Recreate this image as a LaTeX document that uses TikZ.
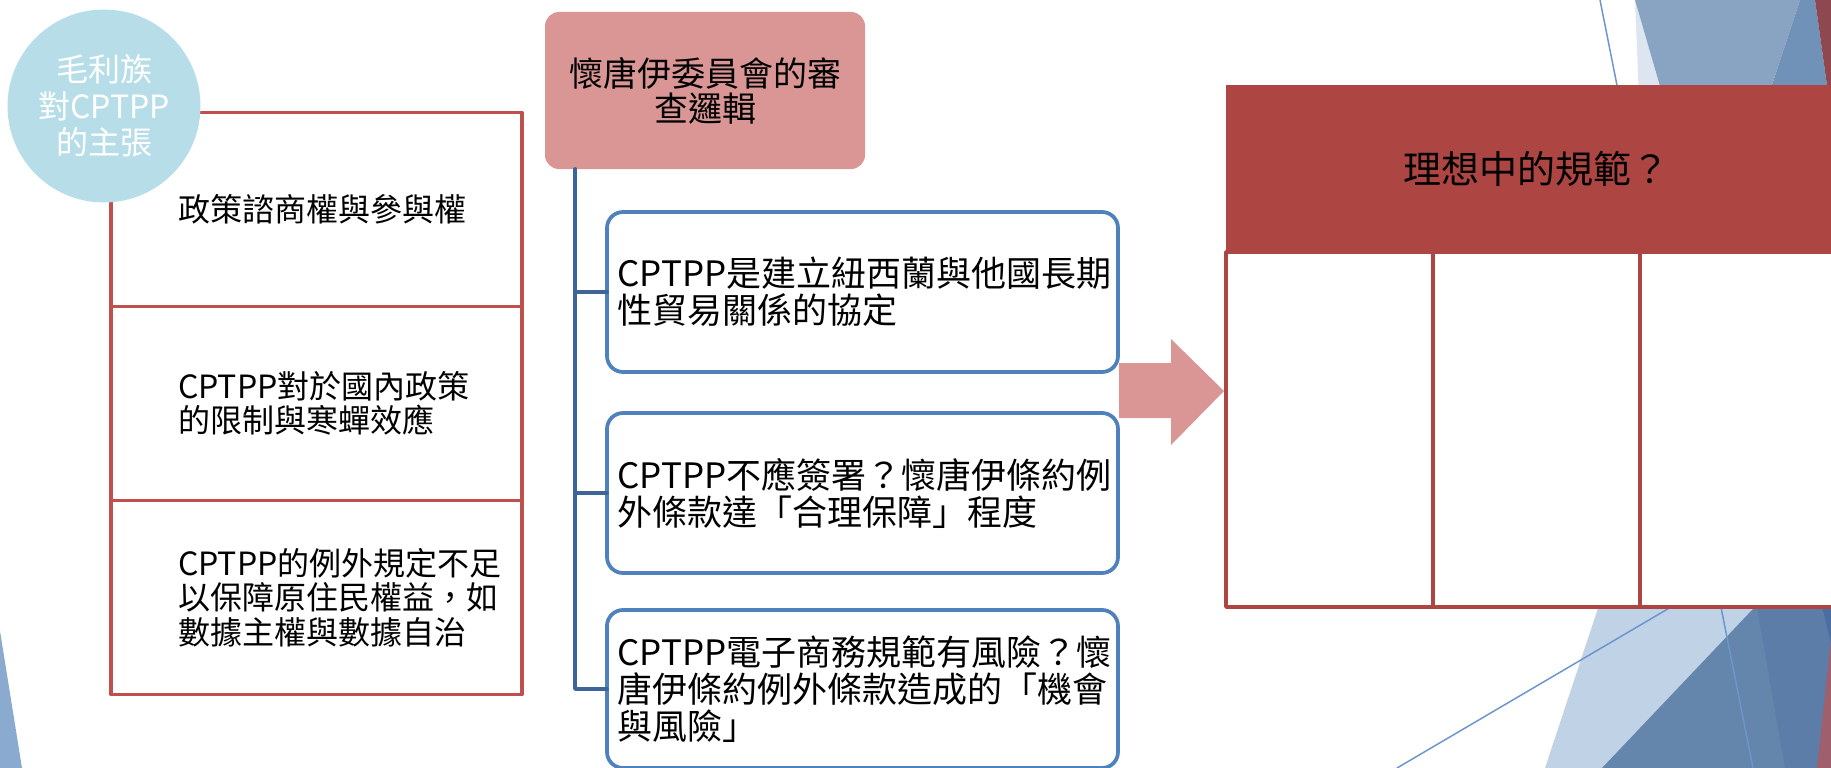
\documentclass[tikz,border=0pt]{standalone}
\usepackage{fontspec}
\setmainfont{Noto Sans CJK TC}[Script=CJK,Language=Chinese Traditional]
\definecolor{tribeblue}{HTML}{B7DEE8}
\definecolor{claimred}{HTML}{C0504D}
\definecolor{reviewpink}{HTML}{D99694}
\definecolor{reasonblue}{HTML}{4F81BD}
\definecolor{trunkblue}{HTML}{3E6498}
\definecolor{idealred}{HTML}{AD4542}
\definecolor{facetpale}{HTML}{DCE5F0}
\definecolor{facetsteel}{HTML}{89A4C2}
\definecolor{facetmid}{HTML}{7092B8}
\definecolor{facetwine}{HTML}{8D4850}
\definecolor{facetlight}{HTML}{BFD2E6}
\definecolor{facetdark}{HTML}{6485AC}
\definecolor{facetband}{HTML}{5C7DA8}
\definecolor{facetdeep}{HTML}{4A6EA0}
\definecolor{facetrose}{HTML}{A05F6C}
\definecolor{facetleft}{HTML}{8AAAD0}
\definecolor{facetline}{HTML}{6D96CC}
\begin{document}
\begin{tikzpicture}[x=1pt,y=-1pt,line join=round,line cap=round]
			\tikzset{every node/.style={inner sep=0pt,outer sep=0pt},
				claimbox/.style={draw=claimred,line width=3.75pt,minimum width=411pt,minimum height=194pt},
				claimtext/.style={anchor=west,align=left,font=\fontsize{32}{34.5}\selectfont},
				tribe/.style={circle,fill=tribeblue,minimum size=193pt,text=white,align=center,font=\fontsize{32}{36.5}\selectfont},
				reviewbox/.style={fill=reviewpink,rounded corners=14pt,minimum width=320pt,minimum height=157pt,align=center,font=\fontsize{34}{35}\selectfont},
				reason/.style={draw=reasonblue,fill=white,line width=3.75pt,rounded corners=16pt,minimum height=160pt,text width=490pt,inner xsep=10.5pt,align=left,font=\fontsize{35}{37}\selectfont},
				trunk/.style={draw=trunkblue,line width=3.75pt},
				idealhead/.style={fill=idealred,minimum width=621pt,minimum height=167pt,font=\fontsize{38}{40}\selectfont},
				idealcell/.style={draw=idealred,fill=white,line width=3.75pt,minimum width=207pt,minimum height=355pt,anchor=north west}}
			\useasboundingbox (0,0) rectangle (1831,768);
			\clip (0,0) rectangle (1831,768);
			\begin{scope}
				\fill[facetpale] (1635,0)--(1639,100)--(1664,100)--cycle;
				\fill[facetsteel] (1635,0)--(1800,0)--(1767,100)--(1664,100)--cycle;
				\fill[facetmid] (1800,0)--(1815,0)--(1829,100)--(1767,100)--cycle;
				\fill[facetwine] (1815,0)--(1831,0)--(1831,100)--(1829,100)--cycle;
				\fill[facetlight] (1604,590)--(1831,590)--(1831,768)--(1545,768)--cycle;
				\fill[facetdark] (1771,590)--(1831,590)--(1831,768)--(1602,768)--cycle;
				\fill[facetband] (1754,590)--(1831,590)--(1831,768)--(1785,768)--cycle;
				\fill[facetdeep] (1818,590)--(1831,590)--(1831,643)--cycle;
				\fill[facetrose] (1831,640)--(1831,768)--(1817,768)--cycle;
				\fill[facetleft] (0,631)--(22,768)--(0,768)--cycle;
				\draw[facetline,line width=1.5pt] (1600,0)--(1753,768) (1700,590)--(1397,768);
			\end{scope}
			\node[claimbox] (claimA) at (316.5,209.5) {};
			\node[claimbox] (claimB) at (316.5,403.5) {};
			\node[claimbox] (claimC) at (316.5,597.5) {};
			\node[claimtext] (claimAtext) at ([xshift=67pt]claimA.west) {政策諮商權與參與權};
			\node[claimtext] (claimBtext) at ([xshift=67pt]claimB.west) {CPTPP對於國內政策\\的限制與寒蟬效應};
			\node[claimtext] (claimCtext) at ([xshift=67pt]claimC.west) {CPTPP的例外規定不足\\以保障原住民權益，如\\數據主權與數據自治};
			\node[tribe] (tribe) at (104,106) {毛利族\\對CPTPP\\的主張};
			\node[reviewbox] (review) at (705,90.5) {懷唐伊委員會的審\\查邏輯};
			\node[reason] (reasonA) at (862.5,292) {CPTPP是建立紐西蘭與他國長期\\性貿易關係的協定};
			\node[reason] (reasonB) at (862.5,493) {CPTPP不應簽署？懷唐伊條約例\\外條款達「合理保障」程度};
			\node[reason,minimum height=158pt] (reasonC) at (862.5,689) {CPTPP電子商務規範有風險？懷\\唐伊條約例外條款造成的「機會\\與風險」};
			\coordinate (trunktop) at ([xshift=30pt]review.south west);
			\draw[trunk] (trunktop) |- (reasonA.west) (trunktop) |- (reasonB.west) (trunktop) |- (reasonC.west);
			\fill[reviewpink] (1119,363)--(1171,363)--(1171,339)--(1224,391)--(1171,445)--(1171,418)--(1119,418)--cycle;
			\node[idealhead] (ideal) at (1536.5,168.5) {理想中的規範？};
			\node[idealcell] (cellA) at (ideal.south west) {};
			\node[idealcell] (cellB) at (cellA.north east) {};
			\node[idealcell] (cellC) at (cellB.north east) {};
	\end{tikzpicture}
\end{document}
